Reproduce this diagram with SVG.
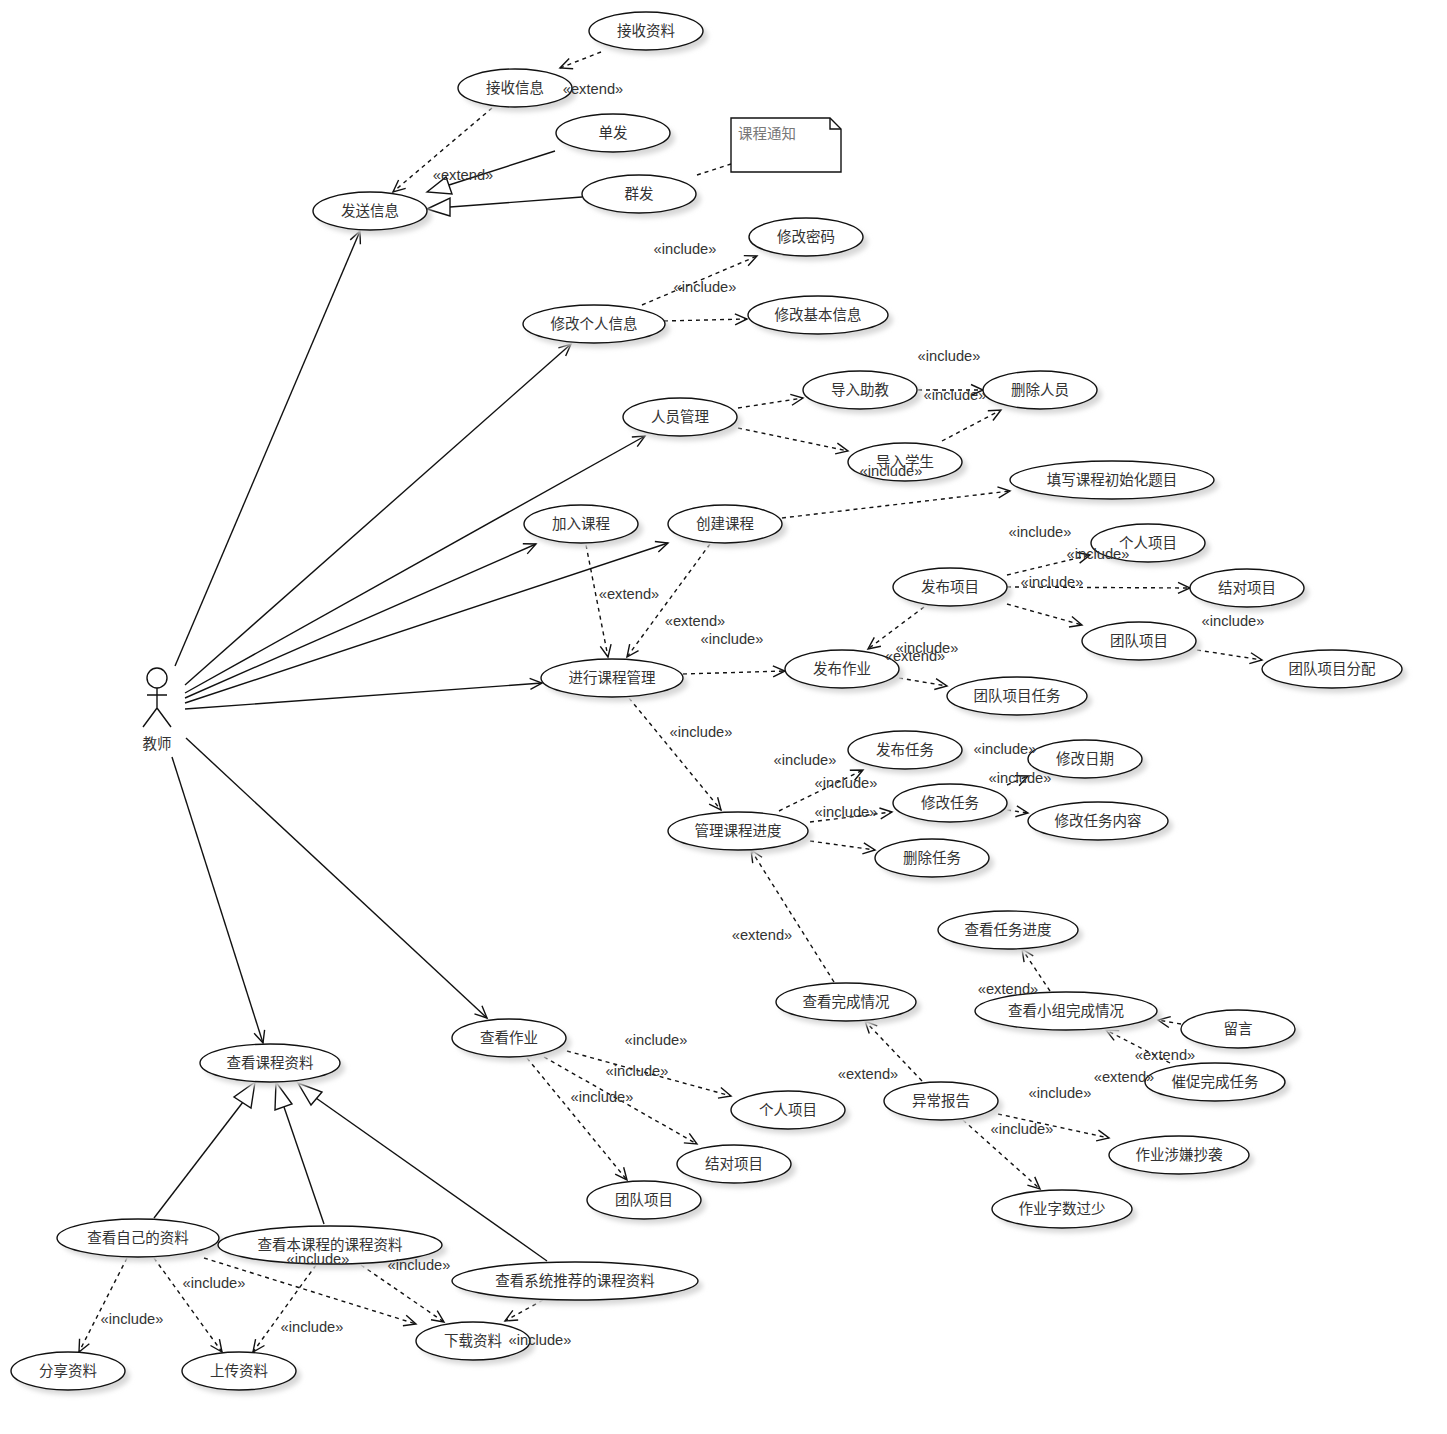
<svg xmlns="http://www.w3.org/2000/svg" width="1447" height="1434" viewBox="0 0 1447 1434">
<style>
text{font-family:"Noto Sans CJK SC","Liberation Serif",serif;font-size:14.5px;fill:#333;text-anchor:middle;dominant-baseline:central;transform:translateY(-2px)}
text.l{font-family:"Liberation Sans",Arial,sans-serif;font-size:14.7px;fill:#333;transform:none}
.n ellipse{fill:#fff;stroke:#111;stroke-width:1.4}
.n ellipse.s{fill:#d8d8d8;stroke:none;filter:url(#b)}
.c{fill:none;stroke:#111;stroke-width:1.4}
.d{stroke-dasharray:4 4}
.t{fill:#fff;stroke:#111;stroke-width:1.4}
</style>
<defs>
<filter id="b" x="-20%" y="-40%" width="140%" height="180%"><feGaussianBlur stdDeviation="2.5"/></filter>
<marker id="a" markerUnits="userSpaceOnUse" markerWidth="20" markerHeight="20" refX="14" refY="8" orient="auto" viewBox="0 0 20 16"><path d="M2 2.5L14 8L2 13.5" fill="none" stroke="#111" stroke-width="1.4"/></marker>
</defs>
<g id="connectors">
<g class="c">
<path d="M175 666L360 231" marker-end="url(#a)"/>
<path d="M185 685L571 344" marker-end="url(#a)"/>
<path d="M185 693L645 436" marker-end="url(#a)"/>
<path d="M185 698L536 544" marker-end="url(#a)"/>
<path d="M185 703L668 543" marker-end="url(#a)"/>
<path d="M185 709L542 683" marker-end="url(#a)"/>
<path d="M186 738L487 1018" marker-end="url(#a)"/>
<path d="M172 757L263 1043" marker-end="url(#a)"/>
<path d="M555 151L449 185"/>
<path d="M582 197L450 207"/>
<path d="M154 1218L243 1102"/>
<path d="M324 1224L284 1107"/>
<path d="M547 1261L316 1098"/>
</g>
<path class="t" d="M427 192L446 177L452 194Z"/>
<path class="t" d="M427 209L450 198L450 216Z"/>
<path class="t" d="M255 1082L234 1097L251 1108Z"/>
<path class="t" d="M276 1082L275 1110L292 1104Z"/>
<path class="t" d="M298 1083L322 1092L311 1105Z"/>
<g class="c d">
<path d="M601 52L560 68" marker-end="url(#a)"/>
<path d="M492 108L393 192" marker-end="url(#a)"/>
<path d="M642 305L757 256" marker-end="url(#a)"/>
<path d="M664 321L747 319" marker-end="url(#a)"/>
<path d="M738 408L803 398" marker-end="url(#a)"/>
<path d="M738 428L848 451" marker-end="url(#a)"/>
<path d="M918 390L983 390" marker-end="url(#a)"/>
<path d="M942 441L1001 410" marker-end="url(#a)"/>
<path d="M782 518L1010 491" marker-end="url(#a)"/>
<path d="M586 545L608 657" marker-end="url(#a)"/>
<path d="M710 544L627 657" marker-end="url(#a)"/>
<path d="M683 674L785 671" marker-end="url(#a)"/>
<path d="M924 607L868 649" marker-end="url(#a)"/>
<path d="M1007 575L1090 555" marker-end="url(#a)"/>
<path d="M1007 587L1190 588" marker-end="url(#a)"/>
<path d="M1007 604L1082 625" marker-end="url(#a)"/>
<path d="M899 678L947 686" marker-end="url(#a)"/>
<path d="M1197 650L1262 660" marker-end="url(#a)"/>
<path d="M629 698L721 810" marker-end="url(#a)"/>
<path d="M779 811L863 770" marker-end="url(#a)"/>
<path d="M810 822L892 812" marker-end="url(#a)"/>
<path d="M810 841L875 850" marker-end="url(#a)"/>
<path d="M1007 785L1028 776" marker-end="url(#a)"/>
<path d="M1007 810L1028 813" marker-end="url(#a)"/>
<path d="M834 982L751 850" marker-end="url(#a)"/>
<path d="M922 1081L865 1021" marker-end="url(#a)"/>
<path d="M1050 991L1022 949" marker-end="url(#a)"/>
<path d="M1181 1024L1158 1020" marker-end="url(#a)"/>
<path d="M1170 1063L1106 1030" marker-end="url(#a)"/>
<path d="M998 1114L1109 1138" marker-end="url(#a)"/>
<path d="M963 1120L1040 1189" marker-end="url(#a)"/>
<path d="M567 1051L731 1096" marker-end="url(#a)"/>
<path d="M544 1057L697 1144" marker-end="url(#a)"/>
<path d="M527 1058L627 1180" marker-end="url(#a)"/>
<path d="M127 1258L79 1352" marker-end="url(#a)"/>
<path d="M154 1258L222 1352" marker-end="url(#a)"/>
<path d="M204 1258L416 1324" marker-end="url(#a)"/>
<path d="M316 1265L253 1352" marker-end="url(#a)"/>
<path d="M361 1265L444 1322" marker-end="url(#a)"/>
<path d="M543 1300L505 1321" marker-end="url(#a)"/>
<path d="M697 175L731 164"/>
</g>
</g>
<g id="actor" class="c"><circle cx="157" cy="678" r="10"/><path d="M157 688V708M147 695H167M143 727L157 708L171 727"/></g>
<text x="157" y="744">教师</text>
<g id="note"><path class="t" d="M731 118H830L841 129V172H731Z"/><path class="c" d="M830 118V129H841"/><text x="767" y="134" style="fill:#777">课程通知</text></g>
<g id="n1" class="n"><ellipse class="s" cx="651" cy="36" rx="57" ry="19"/><ellipse cx="646" cy="31" rx="57" ry="19"/><text x="646" y="31">接收资料</text></g>
<g id="n2" class="n"><ellipse class="s" cx="520" cy="93" rx="57" ry="19"/><ellipse cx="515" cy="88" rx="57" ry="19"/><text x="515" y="88">接收信息</text></g>
<g id="n3" class="n"><ellipse class="s" cx="618" cy="138" rx="57" ry="19"/><ellipse cx="613" cy="133" rx="57" ry="19"/><text x="613" y="133">单发</text></g>
<g id="n4" class="n"><ellipse class="s" cx="644" cy="199" rx="57" ry="19"/><ellipse cx="639" cy="194" rx="57" ry="19"/><text x="639" y="194">群发</text></g>
<g id="n5" class="n"><ellipse class="s" cx="375" cy="216" rx="57" ry="19"/><ellipse cx="370" cy="211" rx="57" ry="19"/><text x="370" y="211">发送信息</text></g>
<g id="n6" class="n"><ellipse class="s" cx="811" cy="242" rx="57" ry="19"/><ellipse cx="806" cy="237" rx="57" ry="19"/><text x="806" y="237">修改密码</text></g>
<g id="n7" class="n"><ellipse class="s" cx="823" cy="320" rx="70" ry="19"/><ellipse cx="818" cy="315" rx="70" ry="19"/><text x="818" y="315">修改基本信息</text></g>
<g id="n8" class="n"><ellipse class="s" cx="599" cy="329" rx="71" ry="19"/><ellipse cx="594" cy="324" rx="71" ry="19"/><text x="594" y="324">修改个人信息</text></g>
<g id="n9" class="n"><ellipse class="s" cx="865" cy="395" rx="57" ry="19"/><ellipse cx="860" cy="390" rx="57" ry="19"/><text x="860" y="390">导入助教</text></g>
<g id="n10" class="n"><ellipse class="s" cx="1045" cy="395" rx="57" ry="19"/><ellipse cx="1040" cy="390" rx="57" ry="19"/><text x="1040" y="390">删除人员</text></g>
<g id="n11" class="n"><ellipse class="s" cx="685" cy="422" rx="57" ry="19"/><ellipse cx="680" cy="417" rx="57" ry="19"/><text x="680" y="417">人员管理</text></g>
<g id="n12" class="n"><ellipse class="s" cx="910" cy="467" rx="57" ry="19"/><ellipse cx="905" cy="462" rx="57" ry="19"/><text x="905" y="462">导入学生</text></g>
<g id="n13" class="n"><ellipse class="s" cx="1117" cy="485" rx="102" ry="19"/><ellipse cx="1112" cy="480" rx="102" ry="19"/><text x="1112" y="480">填写课程初始化题目</text></g>
<g id="n14" class="n"><ellipse class="s" cx="586" cy="529" rx="57" ry="19"/><ellipse cx="581" cy="524" rx="57" ry="19"/><text x="581" y="524">加入课程</text></g>
<g id="n15" class="n"><ellipse class="s" cx="730" cy="529" rx="57" ry="19"/><ellipse cx="725" cy="524" rx="57" ry="19"/><text x="725" y="524">创建课程</text></g>
<g id="n16" class="n"><ellipse class="s" cx="1153" cy="548" rx="57" ry="19"/><ellipse cx="1148" cy="543" rx="57" ry="19"/><text x="1148" y="543">个人项目</text></g>
<g id="n17" class="n"><ellipse class="s" cx="955" cy="592" rx="57" ry="19"/><ellipse cx="950" cy="587" rx="57" ry="19"/><text x="950" y="587">发布项目</text></g>
<g id="n18" class="n"><ellipse class="s" cx="1252" cy="593" rx="57" ry="19"/><ellipse cx="1247" cy="588" rx="57" ry="19"/><text x="1247" y="588">结对项目</text></g>
<g id="n19" class="n"><ellipse class="s" cx="1144" cy="646" rx="57" ry="19"/><ellipse cx="1139" cy="641" rx="57" ry="19"/><text x="1139" y="641">团队项目</text></g>
<g id="n20" class="n"><ellipse class="s" cx="847" cy="674" rx="57" ry="19"/><ellipse cx="842" cy="669" rx="57" ry="19"/><text x="842" y="669">发布作业</text></g>
<g id="n21" class="n"><ellipse class="s" cx="1337" cy="674" rx="70" ry="19"/><ellipse cx="1332" cy="669" rx="70" ry="19"/><text x="1332" y="669">团队项目分配</text></g>
<g id="n22" class="n"><ellipse class="s" cx="617" cy="683" rx="71" ry="19"/><ellipse cx="612" cy="678" rx="71" ry="19"/><text x="612" y="678">进行课程管理</text></g>
<g id="n23" class="n"><ellipse class="s" cx="1022" cy="701" rx="70" ry="19"/><ellipse cx="1017" cy="696" rx="70" ry="19"/><text x="1017" y="696">团队项目任务</text></g>
<g id="n24" class="n"><ellipse class="s" cx="910" cy="755" rx="57" ry="19"/><ellipse cx="905" cy="750" rx="57" ry="19"/><text x="905" y="750">发布任务</text></g>
<g id="n25" class="n"><ellipse class="s" cx="1090" cy="764" rx="57" ry="19"/><ellipse cx="1085" cy="759" rx="57" ry="19"/><text x="1085" y="759">修改日期</text></g>
<g id="n26" class="n"><ellipse class="s" cx="955" cy="808" rx="57" ry="19"/><ellipse cx="950" cy="803" rx="57" ry="19"/><text x="950" y="803">修改任务</text></g>
<g id="n27" class="n"><ellipse class="s" cx="1103" cy="826" rx="70" ry="19"/><ellipse cx="1098" cy="821" rx="70" ry="19"/><text x="1098" y="821">修改任务内容</text></g>
<g id="n28" class="n"><ellipse class="s" cx="743" cy="836" rx="70" ry="19"/><ellipse cx="738" cy="831" rx="70" ry="19"/><text x="738" y="831">管理课程进度</text></g>
<g id="n29" class="n"><ellipse class="s" cx="937" cy="863" rx="57" ry="19"/><ellipse cx="932" cy="858" rx="57" ry="19"/><text x="932" y="858">删除任务</text></g>
<g id="n30" class="n"><ellipse class="s" cx="1013" cy="935" rx="70" ry="19"/><ellipse cx="1008" cy="930" rx="70" ry="19"/><text x="1008" y="930">查看任务进度</text></g>
<g id="n31" class="n"><ellipse class="s" cx="851" cy="1007" rx="70" ry="19"/><ellipse cx="846" cy="1002" rx="70" ry="19"/><text x="846" y="1002">查看完成情况</text></g>
<g id="n32" class="n"><ellipse class="s" cx="1071" cy="1016" rx="91" ry="19"/><ellipse cx="1066" cy="1011" rx="91" ry="19"/><text x="1066" y="1011">查看小组完成情况</text></g>
<g id="n33" class="n"><ellipse class="s" cx="1243" cy="1034" rx="57" ry="19"/><ellipse cx="1238" cy="1029" rx="57" ry="19"/><text x="1238" y="1029">留言</text></g>
<g id="n34" class="n"><ellipse class="s" cx="1220" cy="1087" rx="70" ry="19"/><ellipse cx="1215" cy="1082" rx="70" ry="19"/><text x="1215" y="1082">催促完成任务</text></g>
<g id="n35" class="n"><ellipse class="s" cx="514" cy="1043" rx="57" ry="19"/><ellipse cx="509" cy="1038" rx="57" ry="19"/><text x="509" y="1038">查看作业</text></g>
<g id="n36" class="n"><ellipse class="s" cx="275" cy="1068" rx="70" ry="19"/><ellipse cx="270" cy="1063" rx="70" ry="19"/><text x="270" y="1063">查看课程资料</text></g>
<g id="n37" class="n"><ellipse class="s" cx="946" cy="1106" rx="57" ry="19"/><ellipse cx="941" cy="1101" rx="57" ry="19"/><text x="941" y="1101">异常报告</text></g>
<g id="n38" class="n"><ellipse class="s" cx="793" cy="1115" rx="57" ry="19"/><ellipse cx="788" cy="1110" rx="57" ry="19"/><text x="788" y="1110">个人项目</text></g>
<g id="n39" class="n"><ellipse class="s" cx="1184" cy="1160" rx="70" ry="19"/><ellipse cx="1179" cy="1155" rx="70" ry="19"/><text x="1179" y="1155">作业涉嫌抄袭</text></g>
<g id="n40" class="n"><ellipse class="s" cx="739" cy="1169" rx="57" ry="19"/><ellipse cx="734" cy="1164" rx="57" ry="19"/><text x="734" y="1164">结对项目</text></g>
<g id="n41" class="n"><ellipse class="s" cx="649" cy="1205" rx="57" ry="19"/><ellipse cx="644" cy="1200" rx="57" ry="19"/><text x="644" y="1200">团队项目</text></g>
<g id="n42" class="n"><ellipse class="s" cx="1067" cy="1214" rx="70" ry="19"/><ellipse cx="1062" cy="1209" rx="70" ry="19"/><text x="1062" y="1209">作业字数过少</text></g>
<g id="n43" class="n"><ellipse class="s" cx="143" cy="1243" rx="81" ry="19"/><ellipse cx="138" cy="1238" rx="81" ry="19"/><text x="138" y="1238">查看自己的资料</text></g>
<g id="n44" class="n"><ellipse class="s" cx="335" cy="1250" rx="112" ry="19"/><ellipse cx="330" cy="1245" rx="112" ry="19"/><text x="330" y="1245">查看本课程的课程资料</text></g>
<g id="n45" class="n"><ellipse class="s" cx="580" cy="1286" rx="123" ry="19"/><ellipse cx="575" cy="1281" rx="123" ry="19"/><text x="575" y="1281">查看系统推荐的课程资料</text></g>
<g id="n46" class="n"><ellipse class="s" cx="478" cy="1346" rx="57" ry="19"/><ellipse cx="473" cy="1341" rx="57" ry="19"/><text x="473" y="1341">下载资料</text></g>
<g id="n47" class="n"><ellipse class="s" cx="73" cy="1376" rx="57" ry="19"/><ellipse cx="68" cy="1371" rx="57" ry="19"/><text x="68" y="1371">分享资料</text></g>
<g id="n48" class="n"><ellipse class="s" cx="244" cy="1376" rx="57" ry="19"/><ellipse cx="239" cy="1371" rx="57" ry="19"/><text x="239" y="1371">上传资料</text></g>
<g id="labels">
<text class="l" x="593" y="89">«extend»</text>
<text class="l" x="463" y="175">«extend»</text>
<text class="l" x="685" y="249">«include»</text>
<text class="l" x="705" y="287">«include»</text>
<text class="l" x="949" y="356">«include»</text>
<text class="l" x="955" y="395">«include»</text>
<text class="l" x="891" y="471">«include»</text>
<text class="l" x="1040" y="532">«include»</text>
<text class="l" x="1098" y="554">«include»</text>
<text class="l" x="1052" y="582">«include»</text>
<text class="l" x="629" y="594">«extend»</text>
<text class="l" x="695" y="621">«extend»</text>
<text class="l" x="732" y="639">«include»</text>
<text class="l" x="1233" y="621">«include»</text>
<text class="l" x="927" y="648">«include»</text>
<text class="l" x="915" y="656">«extend»</text>
<text class="l" x="701" y="732">«include»</text>
<text class="l" x="805" y="760">«include»</text>
<text class="l" x="1005" y="749">«include»</text>
<text class="l" x="1020" y="778">«include»</text>
<text class="l" x="846" y="783">«include»</text>
<text class="l" x="846" y="812">«include»</text>
<text class="l" x="762" y="935">«extend»</text>
<text class="l" x="1008" y="989">«extend»</text>
<text class="l" x="1165" y="1055">«extend»</text>
<text class="l" x="1124" y="1077">«extend»</text>
<text class="l" x="1060" y="1093">«include»</text>
<text class="l" x="1022" y="1129">«include»</text>
<text class="l" x="868" y="1074">«extend»</text>
<text class="l" x="656" y="1040">«include»</text>
<text class="l" x="637" y="1071">«include»</text>
<text class="l" x="602" y="1097">«include»</text>
<text class="l" x="214" y="1283">«include»</text>
<text class="l" x="318" y="1259">«include»</text>
<text class="l" x="419" y="1265">«include»</text>
<text class="l" x="132" y="1319">«include»</text>
<text class="l" x="312" y="1327">«include»</text>
<text class="l" x="540" y="1340">«include»</text>
</g>
</svg>
